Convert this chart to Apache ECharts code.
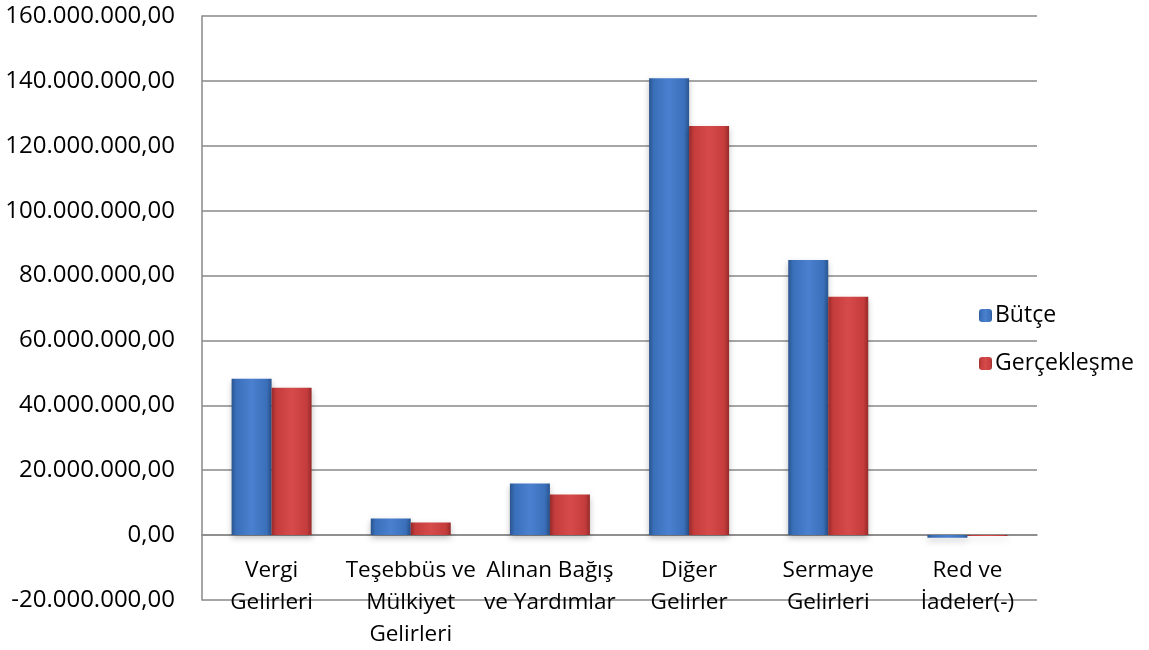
<!DOCTYPE html>
<html>
<head>
<meta charset="utf-8">
<script src="https://cdn.jsdelivr.net/npm/echarts@6/dist/echarts.min.js"></script>
<style>html,body{margin:0;padding:0;background:#fff;}#c{width:1149px;height:650px;}</style>
</head>
<body>
<div id="c"></div>
<script>
var categories = ['Vergi\nGelirleri', 'Teşebbüs ve\nMülkiyet\nGelirleri', 'Alınan Bağış\nve Yardımlar', 'Diğer\nGelirler', 'Sermaye\nGelirleri', 'Red ve\nİadeler(-)'];
var butce = [48200000, 5100000, 15900000, 140800000, 84800000, -800000];
var gerceklesme = [45400000, 3900000, 12500000, 126100000, 73500000, -300000];
var seriesNames = ['Bütçe', 'Gerçekleşme'];

function fmt(v) {
  var neg = v < 0; v = Math.abs(Math.round(v));
  var s = String(v).replace(/\B(?=(\d{3})+(?!\d))/g, '.');
  return (neg ? '-' : '') + s + ',00';
}
function grad(dark, mid, light) {
  return new echarts.graphic.LinearGradient(0, 0, 1, 0, [
    {offset: 0, color: dark}, {offset: 0.12, color: mid}, {offset: 0.5, color: light},
    {offset: 0.88, color: mid}, {offset: 1, color: dark}]);
}
var font = 'Open Sans';
var chart = echarts.init(document.getElementById('c'));
chart.setOption({
  backgroundColor: '#fff',
  animation: false,
  textStyle: {fontFamily: font},
  grid: {left: 202, right: 112, top: 16, bottom: 50, containLabel: false, outerBoundsMode: 'none'},
  legend: {
    orient: 'vertical', left: 974, top: 299, itemWidth: 13, itemHeight: 13, itemGap: 25,
    textStyle: {fontSize: 23, color: '#000', fontFamily: font, padding: [0, 0, 0, -2]},
    data: seriesNames
  },
  xAxis: {
    type: 'category', data: categories,
    axisLine: {onZero: true, lineStyle: {color: '#888', width: 1.5}},
    axisTick: {show: false},
    axisLabel: {fontSize: 22.5, color: '#000', lineHeight: 32, margin: -45, interval: 0, fontFamily: font}
  },
  yAxis: {
    type: 'value', min: -20000000, max: 160000000, interval: 20000000,
    axisLine: {show: true, lineStyle: {color: '#888', width: 1.5}},
    axisTick: {show: false},
    splitLine: {lineStyle: {color: '#888', width: 1.5}},
    axisLabel: {fontSize: 24, color: '#000', margin: 27, formatter: fmt, fontFamily: font}
  },
  series: [
    {name: seriesNames[0], type: 'bar', data: butce, barWidth: 40, barGap: '0%',
     itemStyle: {color: grad('#2a558f', '#3a6fba', '#4a80cf'), shadowColor: 'rgba(0,0,0,0.25)', shadowBlur: 6, shadowOffsetY: 3}},
    {name: seriesNames[1], type: 'bar', data: gerceklesme, barWidth: 40,
     itemStyle: {color: grad('#962a2a', '#c53c3c', '#d64a4a'), shadowColor: 'rgba(0,0,0,0.25)', shadowBlur: 6, shadowOffsetY: 3}}
  ]
});
</script>
</body>
</html>
